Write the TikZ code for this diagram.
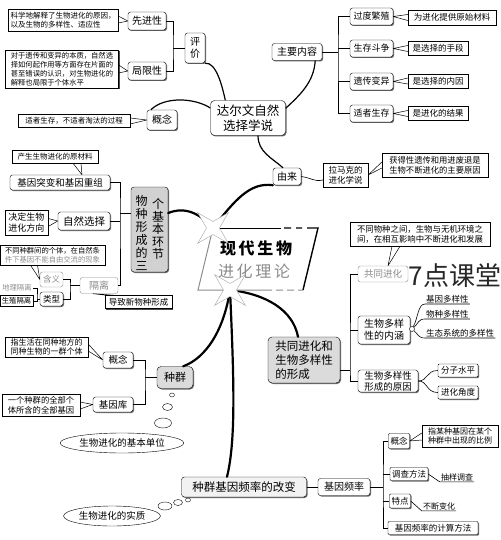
\documentclass[tikz,border=0pt]{standalone}
\usepackage{fontspec}
\setmainfont{Noto Sans CJK SC}
\usetikzlibrary{calc, shapes.geometric, shadows}
\newcommand{\fsz}[2]{\fontsize{#1}{#2}\selectfont}
\colorlet{soft}{black!45}

\begin{document}
\begin{tikzpicture}[x=1pt, y=-1pt,
  note/.style={draw, fill=white, inner sep=1pt, align=left, font=\fsz{7.5}{9},
               drop shadow={opacity=1, fill=black!70, shadow xshift=1pt, shadow yshift=-1pt}},
  item/.style={draw, fill=white, rounded corners=2.5pt, inner sep=1pt, align=center,
               font=\fsz{9.5}{11.5},
               drop shadow={opacity=1, fill=black!60, shadow xshift=1pt, shadow yshift=-1pt}},
  topic/.style={item, fill=black!14, rounded corners=4pt},
  grayitem/.style={draw=soft, text=soft, fill=white, rounded corners=2.5pt, inner sep=1pt,
                   font=\fsz{9.5}{11}},
  plain/.style={inner sep=1pt, font=\fsz{8.5}{10}},
  bub/.style={draw, ellipse, fill=white, inner sep=0pt},
  cloud/.style={draw, ellipse, fill=white, inner sep=1pt, font=\fsz{9.5}{11}},
  spark/.style={star, star points=4, star point ratio=0.3, fill=white, draw=black!35,
                minimum size=13pt, inner sep=0pt},
  link/.style={line width=0.6pt},
  ptr/.style={line width=0.5pt},
  twig/.style={line width=1.2pt},
  trunk/.style={line width=2.2pt, line cap=round}
]
  \useasboundingbox (0,0) rectangle (500,540);

  % ── 达尔文自然选择学说 ──
  \node[note, minimum width=110, minimum height=22] (xjnote) at (63,20)
    {科学地解释了生物进化的原因，\\以及生物的多样性、适应性};
  \node[item, minimum width=38, minimum height=18, font=\fsz{10}{12}] (xianjin) at (147,21) {先进性};
  \node[item, minimum width=38, minimum height=18, font=\fsz{10}{12}] (juxian) at (147,71) {局限性};
  \node[note, minimum width=113, minimum height=38, font=\fsz{7.3}{9}] (jxnote) at (62,69)
    {对于遗传和变异的本质，自然选\\择如何起作用等方面存在片面的\\甚至错误的认识，对生物进化的\\解释也局限于个体水平};
  \node[item, minimum width=20, minimum height=30, font=\fsz{10}{12}] (pingjia) at (195,48) {评\\价};
  \coordinate (pjspine) at (173,48);
  \draw[link] (xianjin.east) -| (pjspine) |- (juxian.east);
  \draw[link] (pjspine) -- (pingjia.west);
  \draw[ptr] (xianjin.west) -- ($(xjnote.east)+(0,-4)$) (xianjin.west) -- ($(xjnote.east)+(0,3)$);
  \draw[ptr] (juxian.west) -- ($(jxnote.east)+(0,-4)$) (juxian.west) -- ($(jxnote.east)+(0,4)$);

  \node[item, minimum width=75, minimum height=35, rounded corners=4pt, font=\fsz{12.5}{15}] (daerwen) at (248,118)
    {达尔文自然\\选择学说};
  \node[item, minimum width=30, minimum height=20, font=\fsz{10}{12}] (gainian1) at (162,120) {概念};
  \node[note, minimum width=112, minimum height=13] (szsc) at (74,121) {适者生存，不适者淘汰的过程};
  \draw[ptr] (gainian1.west) -- ($(szsc.east)+(0,-3)$) (gainian1.west) -- ($(szsc.east)+(0,3)$);

  \node[item, minimum width=50, minimum height=17, font=\fsz{10}{12}] (zhuyao) at (297,52) {主要内容};
  \node[item, minimum width=43, minimum height=17, font=\fsz{9}{11}] (guodu) at (371.5,16.5) {过度繁殖};
  \node[item, minimum width=43, minimum height=17, font=\fsz{9}{11}] (shengcun) at (371.5,48.5) {生存斗争};
  \node[item, minimum width=43, minimum height=17, font=\fsz{9}{11}] (yichuan) at (371.5,81.5) {遗传变异};
  \node[item, minimum width=43, minimum height=17, font=\fsz{9}{11}] (shizhe) at (371.5,113.5) {适者生存};
  \node[note, minimum width=88, minimum height=15, font=\fsz{8.5}{10}] (r1) at (452,17.5) {为进化提供原始材料};
  \node[note, minimum width=60, minimum height=14, font=\fsz{8.5}{10}] (r2) at (438,48.5) {是选择的手段};
  \node[note, minimum width=60, minimum height=14, font=\fsz{8.5}{10}] (r3) at (438,81) {是选择的内因};
  \node[note, minimum width=60, minimum height=14, font=\fsz{8.5}{10}] (r4) at (438,113.5) {是进化的结果};
  \coordinate (zyspine) at (338,52);
  \draw[link] (zhuyao.east) -- (zyspine);
  \draw[link] (guodu.west) -| (zyspine) |- (shizhe.west);
  \draw[link] (shengcun.west) -- (shengcun.west -| zyspine);
  \draw[link] (yichuan.west) -- (yichuan.west -| zyspine);
  \foreach \a/\b in {guodu/r1, shengcun/r2, yichuan/r3, shizhe/r4}
    \draw[ptr] (\a.east) -- ($(\b.west)+(0,-3)$) (\a.east) -- ($(\b.west)+(0,3)$);

  \node[item, minimum width=28, minimum height=17, font=\fsz{10}{12}] (youlai) at (287,176.5) {由来};
  \node[note, minimum width=45, minimum height=24, font=\fsz{8.5}{10}] (lamarck) at (345.5,175) {拉马克的\\进化学说};
  \node[note, minimum width=106, minimum height=24, font=\fsz{8.3}{10}] (huode) at (435,165)
    {获得性遗传和用进废退是\\生物不断进化的主要原因};
  \draw[link] (youlai.east) .. controls (312,178) and (314,182) .. ($(lamarck.west)+(0,5)$);
  \draw[ptr] (lamarck.east) -- ($(huode.west)+(0,-3)$) (lamarck.east) -- ($(huode.west)+(0,3)$);

  \draw[twig] (pingjia.south east) .. controls (216,62) and (222,85) .. ($(daerwen.north west)+(15,0)$);
  \draw[twig] ($(gainian1.north west)+(4,0)$) .. controls (165,96) and (195,98) .. ($(daerwen.west)+(0,-10)$);
  \draw[twig] ($(daerwen.north east)+(0,8)$) .. controls (300,95) and (314,82) .. ($(zhuyao.south east)+(-7,0)$);
  \draw[twig] ($(daerwen.south)+(10,0)$) .. controls (258,152) and (272,158) .. ($(youlai.north)+(-4,0)$);

  % ── 物种形成 ──
  \node[topic, minimum width=37, minimum height=85, fill=black!18, rounded corners=3pt] (wuzhong) at (149.5,229.5) {};
  \node[font=\fsz{12}{13}, align=center, inner sep=0pt] (wzl) at (141.5,233) {物\\种\\形\\成\\的\\三};
  \node[font=\fsz{12}{12.5}, align=center, inner sep=0pt] (wzr) at (158,229) {个\\基\\本\\环\\节};
  \node[note, minimum width=86, minimum height=13] (yuan) at (55,156.5) {产生生物进化的原材料};
  \node[item, minimum width=100, minimum height=15] (jiyin) at (60,182.5) {基因突变和基因重组};
  \node[note, minimum width=43, minimum height=25, font=\fsz{9}{11}] (jueding) at (26.5,222.5) {决定生物\\进化方向};
  \node[item, minimum width=52, minimum height=18, font=\fsz{10.5}{12}] (ziran) at (84,221) {自然选择};
  \node[note, minimum width=105, minimum height=20, font=\fsz{7.3}{9}] (butong) at (52.5,255)
    {不同种群间的个体，在自然条\\{\color{soft}件下基因不能自由交流的现象}};
  \node[grayitem, minimum width=23, minimum height=15, font=\fsz{8.5}{10}] (hanyi) at (51.5,279.5) {含义};
  \node[item, minimum width=23, minimum height=14, font=\fsz{8.5}{10}] (leixing) at (51.5,299) {类型};
  \node[grayitem, minimum width=38, minimum height=16, font=\fsz{10}{12}] (geli) at (99,285.5) {隔离};
  \node[plain, text=soft, font=\fsz{7.3}{9}] (dili) at (17,288) {地理隔离};
  \node[draw, inner sep=1pt, minimum width=33, minimum height=11, font=\fsz{7.3}{9}] (shengzhi) at (16.5,301) {生殖隔离};
  \node[note, minimum width=67, minimum height=13, font=\fsz{8.5}{10}] (daozhi) at (138.5,302) {导致新物种形成};
  \coordinate (wzspine) at (120,213);
  \draw[link] (jiyin.east) -| (wzspine) |- (geli.east);
  \draw[link] (wzspine) -- (wzspine -| wuzhong.west);
  \draw[link] (ziran.east) -- (ziran.east -| wzspine);
  \coordinate (glspine) at (70,285.5);
  \draw[link] (hanyi.east) -| (glspine) |- (leixing.east);
  \draw[link] (glspine) -- (geli.west);
  \coordinate (lxspine) at (37,299);
  \draw[link] (leixing.west) -- (lxspine);
  \draw[link] (dili.east) -| (lxspine) |- (shengzhi.east);
  \draw[ptr] ($(jiyin.north)+(22,0)$) -- ($(yuan.south)+(18,0)$) ($(jiyin.north)+(22,0)$) -- ($(yuan.south)+(26,0)$);
  \draw[ptr] (ziran.west) -- ($(jueding.east)+(0,-4)$) (ziran.west) -- ($(jueding.east)+(0,4)$);
  \draw[ptr] (hanyi.west) -- ($(butong.south)+(-22,0)$) (hanyi.west) -- ($(butong.south)+(-15,0)$);
  \draw[ptr] ($(geli.south)+(-6,0)$) -- ($(daozhi.north west)+(2,0)$) ($(geli.south)+(-6,0)$) -- ($(daozhi.north west)+(10,0)$);

  % ── 种群 ──
  \node[topic, minimum width=36, minimum height=22, font=\fsz{11}{13}] (zhongqun) at (175,377.5) {种群};
  \node[item, minimum width=30, minimum height=16] (gainian2) at (118,360) {概念};
  \node[item, minimum width=40, minimum height=15] (jiyinku) at (113,404.5) {基因库};
  \node[note, minimum width=83, minimum height=20, font=\fsz{8}{9.5}] (zhinote) at (46.5,347)
    {指生活在同种地方的\\同种生物的一群个体};
  \node[note, minimum width=78, minimum height=22, font=\fsz{8.3}{10}] (yigenote) at (41,405)
    {一个种群的全部个\\体所含的全部基因};
  \coordinate (zqspine) at (145,377.5);
  \draw[link] (gainian2.east) -| (zqspine) |- (jiyinku.east);
  \draw[link] (zqspine) -- (zhongqun.west);
  \draw[ptr] (gainian2.west) -- ($(zhinote.east)+(0,-3)$) (gainian2.west) -- ($(zhinote.east)+(0,4)$);
  \draw[ptr] (jiyinku.west) -- ($(yigenote.east)+(0,-3)$) (jiyinku.west) -- ($(yigenote.east)+(0,4)$);
  \node[bub, minimum width=5, minimum height=4] (zb1) at (172,395) {};
  \node[bub, minimum width=10, minimum height=7] (zb2) at (167.5,407) {};
  \node[bub, minimum width=17, minimum height=10] (zb3) at (163,423) {};
  \node[cloud, minimum width=113, minimum height=20] (jiben) at (122,443) {生物进化的基本单位};

  % ── 种群基因频率的改变 ──
  \node[item, minimum width=125, minimum height=20, fill=black!5, rounded corners=3pt, font=\fsz{11.5}{13}] (gaibian) at (244,487)
    {种群基因频率的改变};
  \node[bub, minimum width=5, minimum height=4] (gb1) at (188,500) {};
  \node[bub, minimum width=9, minimum height=6] (gb2) at (178,502.5) {};
  \node[bub, minimum width=14, minimum height=8] (gb3) at (165,506) {};
  \node[cloud, minimum width=90, minimum height=20] (shizhi) at (112,516) {生物进化的实质};
  \node[item, minimum width=52, minimum height=17, font=\fsz{10}{12}] (jyplv) at (344,487) {基因频率};
  \node[item, minimum width=21, minimum height=15, rounded corners=1pt, font=\fsz{8.5}{10}] (gainian3) at (399,441) {概念};
  \node[item, minimum width=38, minimum height=13, rounded corners=1pt, font=\fsz{8.5}{10}] (diaocha) at (409,474) {调查方法};
  \node[item, minimum width=21, minimum height=14, rounded corners=1pt, font=\fsz{8.5}{10}] (tedian) at (400,501) {特点};
  \node[item, minimum width=90, minimum height=13, rounded corners=1pt, font=\fsz{8.5}{10}] (jisuan) at (433,528) {基因频率的计算方法};
  \node[note, minimum width=76, minimum height=22, font=\fsz{8}{9.5}] (zhimou) at (460,436)
    {指某种基因在某个\\种群中出现的比例};
  \node[plain, font=\fsz{8}{10}] (chouyang) at (457,477) {抽样调查};
  \node[plain, font=\fsz{8}{10}] (buduan) at (439,506) {不断变化};
  \draw[link] (gaibian.east) -- (jyplv.west);
  \coordinate (plspine) at (383,487);
  \draw[link] (jyplv.east) -- (plspine);
  \draw[link] (gainian3.west) -| (plspine) |- (jisuan.west);
  \draw[link] (diaocha.west) -- (diaocha.west -| plspine);
  \draw[link] (tedian.west) -- (tedian.west -| plspine);
  \draw[ptr] (gainian3.east) -- ($(zhimou.west)+(0,-3)$) (gainian3.east) -- ($(zhimou.west)+(0,4)$);
  \draw[link] (diaocha.east) -- (chouyang.south west) -- (chouyang.south east);
  \draw[link] (tedian.east) -- (buduan.south west) -- (buduan.south east);

  % ── 共同进化和生物多样性的形成 ──
  \node[note, minimum width=140, minimum height=24, font=\fsz{8.4}{10}] (gtnote) at (420,234)
    {不同物种之间，生物与无机环境之\\间，在相互影响中不断进化和发展};
  \node[grayitem, minimum width=50, minimum height=16] (gtjh) at (383,274) {共同进化};
  \node[font=\fsz{26}{28}, text=black!85, inner sep=0pt] (mark) at (455,276) {7点课堂};
  \draw[ptr] ($(gtjh.north)+(5,0)$) -- ($(gtnote.south)+(-28,0)$) ($(gtjh.north)+(5,0)$) -- ($(gtnote.south)+(-20,0)$);
  \node[topic, minimum width=72, minimum height=46, align=left, font=\fsz{11.5}{14}] (gtjhhe) at (304,360)
    {共同进化和\\生物多样性\\的形成};
  \node[item, minimum width=52, minimum height=28, font=\fsz{10}{12}] (neihan) at (384,330) {生物多样\\性的内涵};
  \node[item, minimum width=60, minimum height=22, font=\fsz{9.5}{11}] (yuanyin) at (388,381) {生物多样性\\形成的原因};
  \node[circle, draw, fill=white, inner sep=0pt, minimum size=5] (nhdot) at (412,329) {};
  \node[plain, anchor=south west] (jydy) at (425,304) {基因多样性};
  \node[plain, anchor=south west] (wzdy) at (425,319) {物种多样性};
  \node[plain, anchor=south west] (stdy) at (425,338) {生态系统的多样性};
  \draw[link] (nhdot) .. controls (418,318) and (418,304) .. (jydy.south west) -- (jydy.south east);
  \draw[link] (nhdot) .. controls (418,324) and (418,319) .. (wzdy.south west) -- (wzdy.south east);
  \draw[link] (nhdot) .. controls (418,334) and (418,338) .. (stdy.south west) -- (stdy.south east);
  \node[item, minimum width=40, minimum height=13, rounded corners=1pt, font=\fsz{8.5}{10}] (fenzi) at (458,370.5) {分子水平};
  \node[item, minimum width=40, minimum height=13, rounded corners=1pt, font=\fsz{8.5}{10}] (jinhua) at (458,392.5) {进化角度};
  \draw[link] (yuanyin.east) .. controls (428,381) and (426,370.5) .. (fenzi.west);
  \draw[link] (yuanyin.east) .. controls (428,381) and (426,392.5) .. (jinhua.west);
  \coordinate (gtspine) at (350,370);
  \draw[link] (gtjh.west) -| (gtspine) |- (yuanyin.west);
  \draw[link] (gtjhhe.east |- gtspine) -- (gtspine);
  \draw[link] (neihan.west) -- (neihan.west -| gtspine);

  % ── 现代生物进化理论 ──
  \coordinate (ctl) at (213,228);
  \coordinate (ctr) at (318,228);
  \coordinate (cbr) at (303,290);
  \coordinate (cbl) at (198,290);
  \coordinate (cstar) at (230,290);
  \draw[trunk] (ctl) .. controls (235,200) and (250,182) .. (youlai.south west);
  \draw[trunk] (ctl) .. controls (200,214) and (186,206) .. (wzspine -| wuzhong.east);
  \draw[trunk] (cstar) .. controls (224,330) and (206,358) .. ($(zhongqun.north east)+(-10,0)$);
  \draw[trunk] (cstar) .. controls (234,380) and (236,440) .. ($(gaibian.north)+(-17,0)$);
  \draw[trunk] (cstar) .. controls (266,294) and (293,310) .. ($(gtjhhe.north)+(-6,0)$);
  \fill[white] (ctl) -- (ctr) -- (cbr) -- (cbl) -- cycle;
  \draw[line width=1pt] (ctl) -- (281,228);
  \draw[line width=1.4pt] (284,228) -- (291,228) (296,228) -- (302,228) (307,228) -- (ctr) -- (cbr);
  \draw[soft, line width=1pt] (cbr) -- (298,290) (294,290) -- (287,290) (283,290) -- (276,290) (272,290) -- (cbl) -- (ctl);
  \node[font=\fsz{16}{18}\bfseries, inner sep=0pt] (ctitle) at (256,248) {现\,代\,生\,物};
  \node[font=\fsz{16}{18}, text=soft, inner sep=0pt] (csub) at (254,271) {进\,化\,理\,论};
  \node[spark] (s1) at (ctl) {};
  \node[spark] (s2) at (cstar) {};
\end{tikzpicture}
\end{document}
